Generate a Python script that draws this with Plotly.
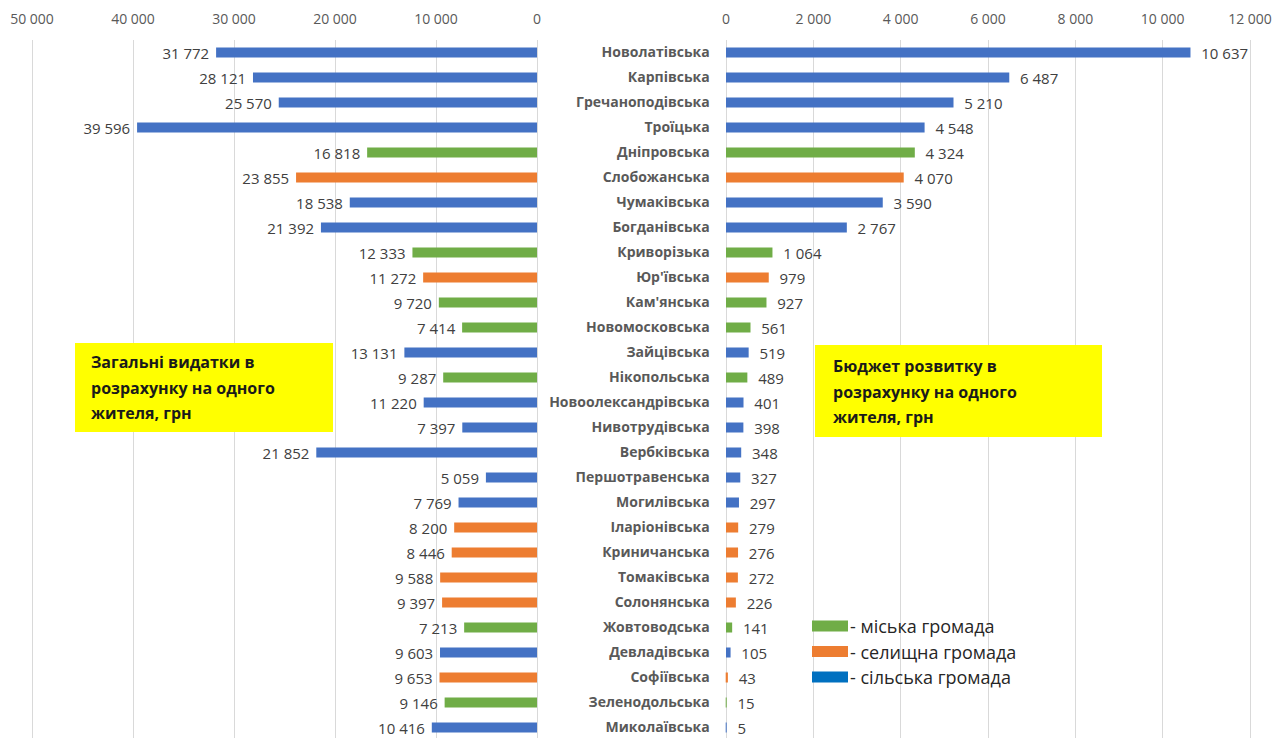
import plotly.graph_objects as go

communities = [
    "Новолатівська", "Карпівська", "Гречаноподівська", "Троїцька", "Дніпровська",
    "Слобожанська", "Чумаківська", "Богданівська", "Криворізька", "Юр'ївська",
    "Кам'янська", "Новомосковська", "Зайцівська", "Нікопольська", "Новоолександрівська",
    "Нивотрудівська", "Вербківська", "Першотравенська", "Могилівська", "Іларіонівська",
    "Криничанська", "Томаківська", "Солонянська", "Жовтоводська", "Девладівська",
    "Софіївська", "Зеленодольська", "Миколаївська",
]
total_spend = [
    31772, 28121, 25570, 39596, 16818, 23855, 18538, 21392, 12333, 11272,
    9720, 7414, 13131, 9287, 11220, 7397, 21852, 5059, 7769, 8200,
    8446, 9588, 9397, 7213, 9603, 9653, 9146, 10416,
]
dev_budget = [
    10637, 6487, 5210, 4548, 4324, 4070, 3590, 2767, 1064, 979,
    927, 561, 519, 489, 401, 398, 348, 327, 297, 279,
    276, 272, 226, 141, 105, 43, 15, 5,
]
community_type = [
    "сільська", "сільська", "сільська", "сільська", "міська",
    "селищна", "сільська", "сільська", "міська", "селищна",
    "міська", "міська", "сільська", "міська", "сільська",
    "сільська", "сільська", "сільська", "сільська", "селищна",
    "селищна", "селищна", "селищна", "міська", "сільська",
    "селищна", "міська", "сільська",
]
left_ticks = [0, 10000, 20000, 30000, 40000, 50000]
right_ticks = [0, 2000, 4000, 6000, 8000, 10000, 12000]

type_colors = {"міська": "#70AD47", "селищна": "#ED7D31", "сільська": "#4472C4"}
legend_items = [("міська", "#70AD47"), ("селищна", "#ED7D31"), ("сільська", "#0070C0")]

# The page body adds an 8 px margin; lay the figure out in window pixels.
OFF = 8
W, H = 1284 - OFF, 738 - OFF
TOP = 40 - OFF
FONT = "Open Sans"
GRID = "#D9D9D9"

bar_colors = [type_colors[t] for t in community_type]

fig = go.Figure()
for xs, xa, ya, tmpl in [(total_spend, "x", "y", "%{x:,d}\u00a0"),
                         (dev_budget, "x2", "y2", "\u00a0\u00a0%{x:,d}")]:
    fig.add_trace(go.Bar(
        x=xs, y=communities, orientation="h", xaxis=xa, yaxis=ya,
        marker=dict(color=bar_colors, line=dict(width=0)), width=0.4,
        texttemplate=tmpl, textposition="outside", cliponaxis=False,
        constraintext="none",
        textfont=dict(family=FONT, size=15, color="#404040"), showlegend=False,
    ))

def px_x(p):
    return (p - OFF) / W

def px_y(p):
    return (H - (p - OFF)) / (H - TOP)

n = len(communities)
yrange = [n - 0.58, -0.5]

# axis pixel placement (window px): left 50000 -> 32, 0 -> 537 ; right 0 -> 726, 12000 -> 1250
L_MAX, L_PAD = 50000, 100
R_MAX, R_PAD = 12000, 30
ls = (537 - 32) / L_MAX
rs = (1250 - 726) / R_MAX

axis_common = dict(
    side="top", showgrid=True, gridcolor=GRID, gridwidth=1,
    zeroline=True, zerolinecolor=GRID, zerolinewidth=1, showline=False,
    tickformat=",d", ticks="outside", ticklen=9, tickcolor="rgba(0,0,0,0)",
    tickfont=dict(family=FONT, size=14, color="#595959"), fixedrange=True,
    automargin=False,
)

fig.update_layout(
    width=W, height=H,
    margin=dict(l=0, r=0, t=TOP, b=0, autoexpand=False),
    paper_bgcolor="white", plot_bgcolor="white",
    separators=", ",
    font=dict(family=FONT, color="#404040"),
    xaxis=dict(domain=[px_x(32 - L_PAD * ls), px_x(537 + L_PAD * ls)],
               range=[L_MAX + L_PAD, -L_PAD], tickvals=left_ticks,
               anchor="y", **axis_common),
    xaxis2=dict(domain=[px_x(726 - R_PAD * rs), px_x(1250 + R_PAD * rs)],
                range=[-R_PAD, R_MAX + R_PAD], tickvals=right_ticks,
                anchor="y2", **axis_common),
    yaxis=dict(anchor="x", range=yrange, showticklabels=False, showgrid=False,
               zeroline=False, showline=False, ticks="", fixedrange=True, automargin=False),
    yaxis2=dict(anchor="x2", range=yrange, showticklabels=True, showgrid=False,
                zeroline=False, showline=False, ticks="", ticklabelstandoff=14,
                tickfont=dict(family=FONT, size=14, color="#595959", weight="bold"),
                fixedrange=True, automargin=False),
)

shapes = []
annotations = []

# Yellow caption boxes
boxes = [
    ((75, 333, 343, 432), 89, [362, 388, 413],
     ["Загальні видатки в", "розрахунку на одного", "жителя, грн"]),
    ((815, 1102, 345, 437), 831, [366, 392, 417],
     ["Бюджет розвитку в", "розрахунку на одного", "жителя, грн"]),
]
for (x0, x1, y0, y1), tx, tys, lines in boxes:
    shapes.append(dict(type="rect", xref="paper", yref="paper",
                       x0=px_x(x0), x1=px_x(x1), y0=px_y(y1), y1=px_y(y0),
                       fillcolor="#FFFF00", line=dict(width=0), layer="above"))
    for ty, line in zip(tys, lines):
        annotations.append(dict(xref="paper", yref="paper", x=px_x(tx), y=px_y(ty),
                                xanchor="left", yanchor="middle", showarrow=False,
                                text=line, font=dict(family=FONT, size=16, color="#1A1A1A", weight="bold")))

# Custom legend
for i, (label, color) in enumerate(legend_items):
    cy = 626 + i * 25.5
    shapes.append(dict(type="rect", xref="paper", yref="paper",
                       x0=px_x(812), x1=px_x(848), y0=px_y(cy + 5.5), y1=px_y(cy - 5.5),
                       fillcolor=color, line=dict(width=0), layer="above"))
    annotations.append(dict(xref="paper", yref="paper", x=px_x(848), y=px_y(cy),
                            xanchor="left", yanchor="middle", showarrow=False,
                            text="- " + label + " громада",
                            font=dict(family=FONT, size=18, color="#262626")))

fig.update_layout(shapes=shapes, annotations=annotations)
fig.write_html("out.html")
